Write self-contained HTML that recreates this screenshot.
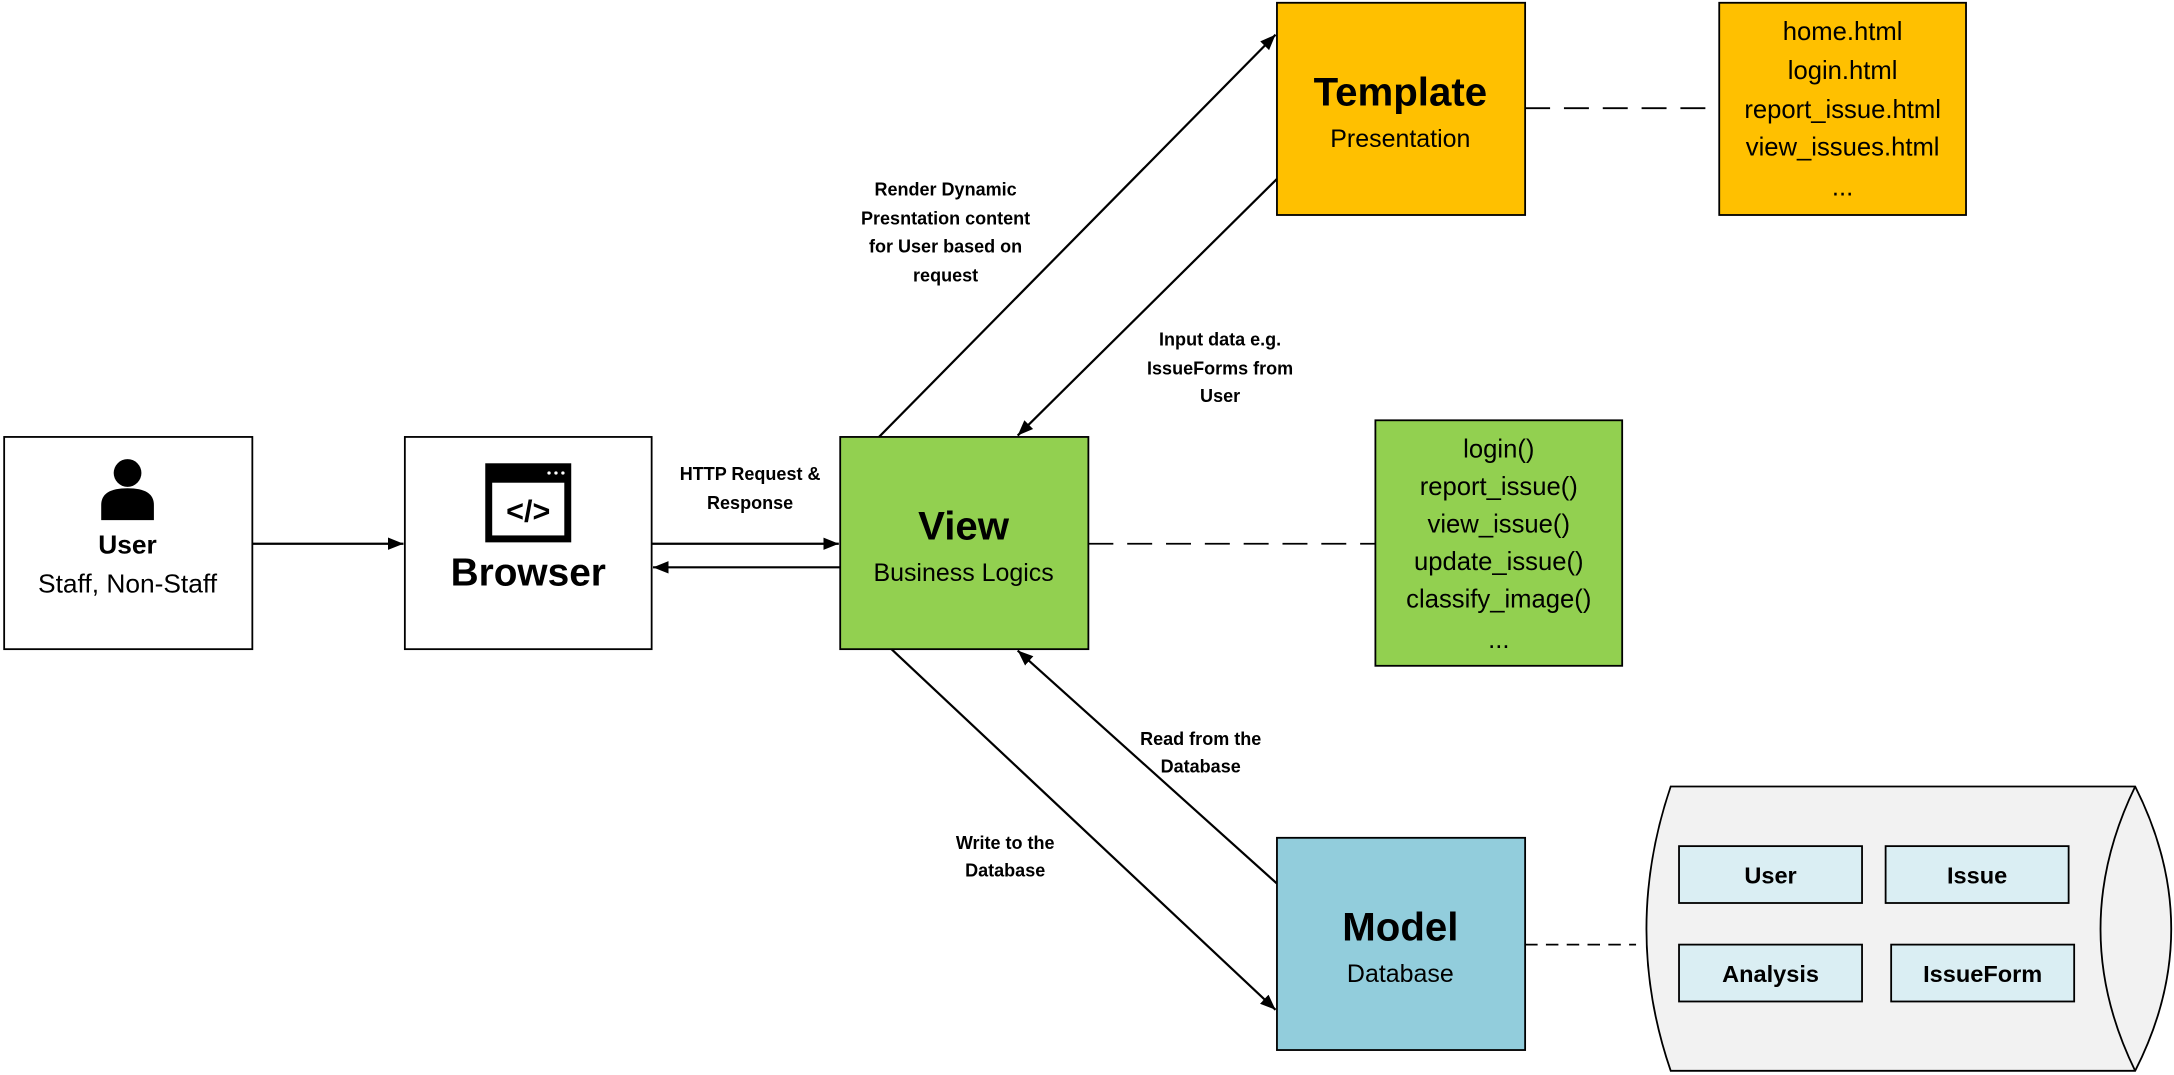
<!DOCTYPE html>
<html><head><meta charset="utf-8"><style>
html,body{margin:0;padding:0;background:#fff;}
svg{display:block;}
text{font-family:"Liberation Sans",sans-serif;fill:#000;}
.b{font-weight:bold;}
</style></head><body>
<svg width="2174" height="1075" viewBox="0 0 1568 775" preserveAspectRatio="none" xmlns="http://www.w3.org/2000/svg">
<defs><marker id="a" viewBox="0 0 10 10" refX="10" refY="5" markerWidth="7" markerHeight="7" orient="auto-start-reverse"><path d="M0,1 L10,5 L0,9 Z" fill="#000"/></marker></defs>
<g stroke="#000" stroke-width="1.3">
<rect x="3" y="315" width="179" height="153" fill="#fff"/>
<rect x="292" y="315" width="178" height="153" fill="#fff"/>
<rect x="606" y="315" width="179" height="153" fill="#92D050"/>
<rect x="921" y="2" width="179" height="153" fill="#FFC000"/>
<rect x="1240" y="2" width="178" height="153" fill="#FFC000"/>
<rect x="992" y="303" width="178" height="177" fill="#92D050"/>
<rect x="921" y="604" width="179" height="153" fill="#92CDDC"/>
<path d="M1205,567 L1540,567 Q1592,670 1540,772 L1205,772 Q1170,670 1205,567 Z" fill="#F2F2F2"/>
<path d="M1540,567 Q1490,670 1540,772" fill="none"/>
<rect x="1211" y="610" width="132" height="41" fill="#DAEEF3"/>
<rect x="1360" y="610" width="132" height="41" fill="#DAEEF3"/>
<rect x="1211" y="681" width="132" height="41" fill="#DAEEF3"/>
<rect x="1364" y="681" width="132" height="41" fill="#DAEEF3"/>
</g>
<g stroke="#000" stroke-width="1.6" fill="none">
<line x1="182" y1="392" x2="291" y2="392" marker-end="url(#a)"/>
<line x1="470" y1="392" x2="605" y2="392" marker-end="url(#a)"/>
<line x1="606" y1="409" x2="471" y2="409" marker-end="url(#a)"/>
<line x1="634" y1="315" x2="920" y2="25" marker-end="url(#a)"/>
<line x1="921" y1="129" x2="734" y2="314" marker-end="url(#a)"/>
<line x1="643" y1="468" x2="920" y2="728" marker-end="url(#a)"/>
<line x1="921" y1="637" x2="734" y2="469" marker-end="url(#a)"/>
</g>
<g stroke="#000" stroke-width="1.3" stroke-dasharray="18,10">
<line x1="1100" y1="78" x2="1240" y2="78"/>
<line x1="785" y1="392" x2="992" y2="392"/>
<line x1="1100" y1="681" x2="1180" y2="681" stroke-dasharray="9,6"/>
</g>
<!-- person -->
<circle cx="92" cy="341" r="10" fill="#000"/>
<path d="M73,375 L73,364 Q73,352 92,352 Q111,352 111,364 L111,375 Z" fill="#000"/>
<!-- browser icon -->
<rect x="350" y="334" width="62" height="57" fill="#000"/>
<rect x="355" y="348" width="52" height="38" fill="#fff"/>
<text x="381" y="376" font-size="22" text-anchor="middle" class="b">&lt;/&gt;</text>
<circle cx="396" cy="341" r="1.2" fill="#fff"/><circle cx="401" cy="341" r="1.2" fill="#fff"/><circle cx="406" cy="341" r="1.2" fill="#fff"/>
<g text-anchor="middle">
<text x="92" y="399" font-size="19" class="b">User</text>
<text x="92" y="427" font-size="19">Staff, Non-Staff</text>
<text x="381" y="422" font-size="28" class="b">Browser</text>
<text x="695" y="389" font-size="29" class="b">View</text>
<text x="695" y="419" font-size="18">Business Logics</text>
<text x="1010" y="76" font-size="29" class="b">Template</text>
<text x="1010" y="106" font-size="18">Presentation</text>
<text x="1010" y="678" font-size="29" class="b">Model</text>
<text x="1010" y="708" font-size="18">Database</text>
<g font-size="18.5">
<text x="1329" y="29">home.html</text>
<text x="1329" y="57">login.html</text>
<text x="1329" y="85">report_issue.html</text>
<text x="1329" y="112">view_issues.html</text>
<text x="1329" y="141">...</text>
<text x="1081" y="330">login()</text>
<text x="1081" y="357">report_issue()</text>
<text x="1081" y="384">view_issue()</text>
<text x="1081" y="411">update_issue()</text>
<text x="1081" y="438">classify_image()</text>
<text x="1081" y="467">...</text>
</g>
<g font-size="17" class="b">
<text x="1277" y="637">User</text>
<text x="1426" y="637">Issue</text>
<text x="1277" y="708">Analysis</text>
<text x="1430" y="708">IssueForm</text>
</g>
<g font-size="13" class="b">
<text x="682" y="141">Render Dynamic</text>
<text x="682" y="162">Presntation content</text>
<text x="682" y="182">for User based on</text>
<text x="682" y="203">request</text>
<text x="880" y="249">Input data e.g.</text>
<text x="880" y="270">IssueForms from</text>
<text x="880" y="290">User</text>
<text x="541" y="346">HTTP Request &amp;</text>
<text x="541" y="367">Response</text>
<text x="866" y="537">Read from the</text>
<text x="866" y="557">Database</text>
<text x="725" y="612">Write to the</text>
<text x="725" y="632">Database</text>
</g>
</g>
</svg>
</body></html>
